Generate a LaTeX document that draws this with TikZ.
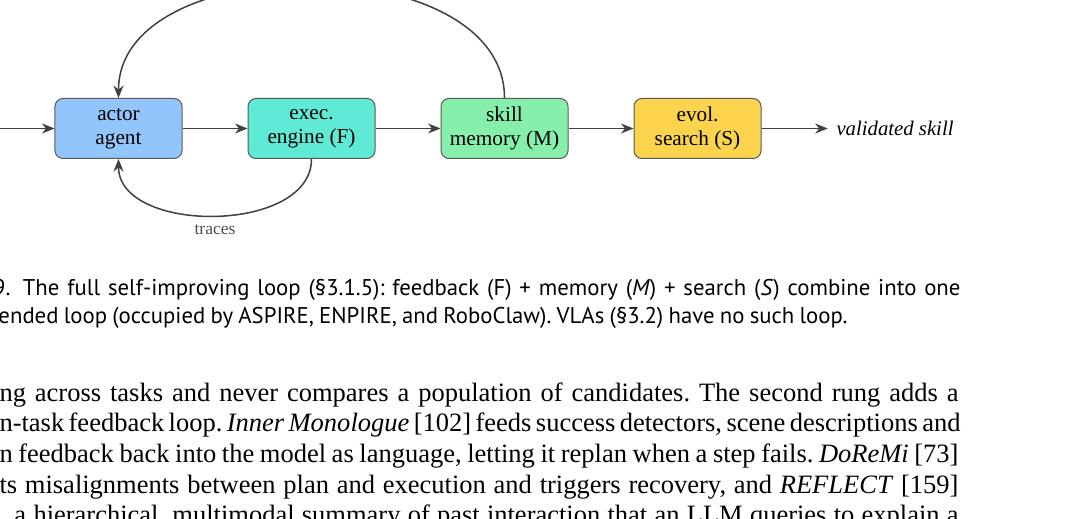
\documentclass[tikz,border=0pt]{standalone}
\usepackage{fontspec}
\setmainfont{Liberation Serif}
\setsansfont{PT Sans}
\usetikzlibrary{arrows.meta, positioning}
\definecolor{actorblue}{HTML}{93C5FD}
\definecolor{execteal}{HTML}{5EEAD4}
\definecolor{memgreen}{HTML}{86EFAC}
\definecolor{searchamber}{HTML}{FCD34D}
\tikzstyle{block} = [draw=black!65, rectangle, rounded corners=3.2pt, minimum width=50.8pt, minimum height=24pt, inner sep=0pt, align=center, font=\fontsize{8.5}{9.6}\selectfont]
\tikzstyle{line} = [draw=black!75, line width=0.6pt]
\tikzstyle{txt} = [anchor=base west, inner sep=0pt]
\newcommand{\jline}[2]{\makebox[#1][s]{#2}}
\newcommand{\capfont}{\sffamily\fontsize{9.1}{11}\selectfont}
\newcommand{\bodyfont}{\fontsize{10.6}{12.3}\selectfont}
\frenchspacing

\begin{document}
\begin{tikzpicture}[x=0.4pt, y=-0.4pt, >={Stealth[length=5pt, width=4pt]}, node distance=77.2pt]
    \useasboundingbox (0,0) rectangle (1080,519);
    \clip (0,0) rectangle (1080,519);
    \coordinate (input) at (-20,128.5);
    \node[block, fill=actorblue] (actor) at (118.5,128.5) {actor\\agent};
    \node[block, fill=execteal, right of=actor] (exec) {exec.\\engine (F)};
    \node[block, fill=memgreen, right of=exec] (mem) {skill\\memory (M)};
    \node[block, fill=searchamber, right of=mem] (search) {evol.\\search (S)};
    \node[right of=search, node distance=79pt, font=\fontsize{8.3}{9.6}\selectfont\itshape] (output) {validated skill};
    \draw[line, ->] (input) -- (actor);
    \draw[line, ->] (actor) -- (exec);
    \draw[line, ->] (exec) -- (mem);
    \draw[line, ->] (mem) -- (search);
    \draw[line, ->] (search) -- (output);
    \draw[line, ->] (mem.north) to[out=90, in=90] (actor.north);
    \draw[line, ->] (exec.south) to[out=-90, in=-90] node[below, font=\fontsize{7}{8}\selectfont, text=black!70] (tr) {traces} (actor.south);

    \node[txt] (cap1) at (5,296) {\capfont\jline{382pt}{\llap{9}.\hspace{5pt}The full self-improving loop (§3.1.5): feedback (F) + memory (\textit{M}) + search (\textit{S}) combine into one}};
    \node[txt] (cap2) at (-2,323) {\capfont\jline{339.6pt}{ended loop (occupied by ASPIRE, ENPIRE, and RoboClaw). VLAs (§3.2) have no such loop.}};

    \node[txt] (body1) at (-1,401) {\bodyfont\jline{383.6pt}{ng across tasks and never compares a population of candidates. The second rung adds a}};
    \node[txt] (body2) at (-1,431.5) {\bodyfont\jline{383.6pt}{n-task feedback loop. \textit{Inner Monologue} [102] feeds success detectors, scene descriptions and}};
    \node[txt] (body3) at (-1,462) {\bodyfont\jline{383.6pt}{n feedback back into the model as language, letting it replan when a step fails. \textit{DoReMi} [73]}};
    \node[txt] (body4) at (-1,493) {\bodyfont\jline{383.6pt}{ts misalignments between plan and execution and triggers recovery, and \textit{REFLECT} [159]}};
    \node[txt] (body5) at (14,523.5) {\bodyfont\jline{377.6pt}{a hierarchical, multimodal summary of past interaction that an LLM queries to explain a}};
\end{tikzpicture}
\end{document}
